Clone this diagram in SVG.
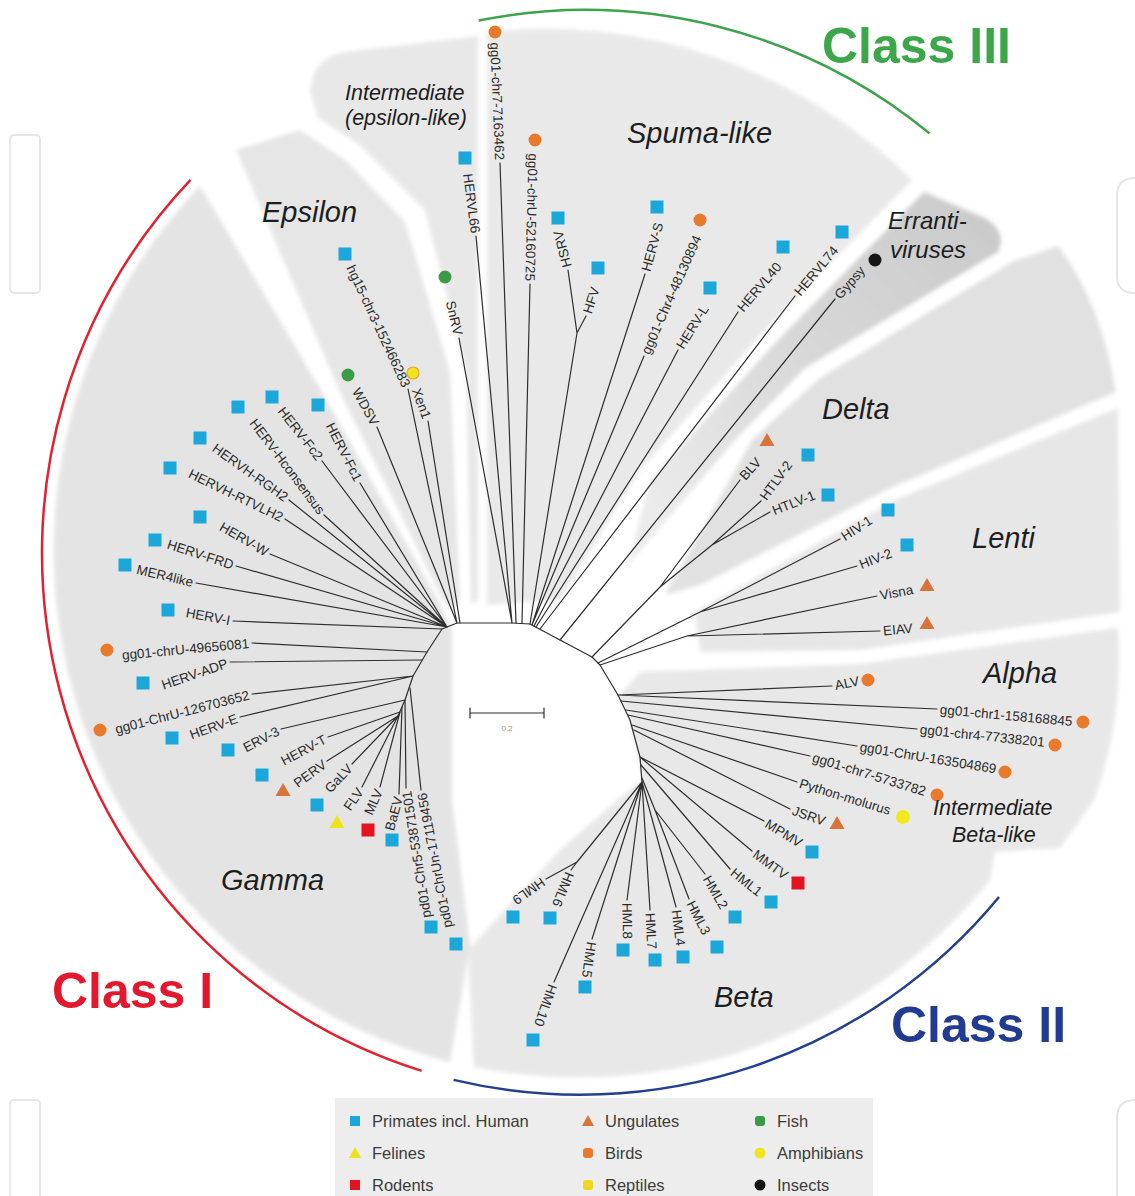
<svg xmlns="http://www.w3.org/2000/svg" width="1135" height="1196" viewBox="0 0 1135 1196">
<defs>
<style>
.br{fill:none;stroke:#2e2e2e;stroke-width:1.2;stroke-linecap:round;stroke-linejoin:round}
.lf{font-family:"Liberation Sans",Arial,sans-serif;font-size:13.5px;fill:#2b2b2b}
.f{text-anchor:end}
.cl{font-family:"Liberation Sans",Arial,sans-serif;font-style:italic;fill:#1e1e1e}
.big{font-size:29px}
.mid{font-size:21.5px}
.cls{font-family:"Liberation Sans",Arial,sans-serif;font-weight:bold;font-size:50px}
.arc{fill:none;stroke-width:2.5}
.lg{font-family:"Liberation Sans",Arial,sans-serif;font-size:16.5px;fill:#3c3c3c}
.wm{fill:none;stroke:#e6e6e6;stroke-width:2}
</style>
<filter id="soft" x="-5%" y="-5%" width="110%" height="110%"><feGaussianBlur stdDeviation="2"/></filter>
<linearGradient id="errg" gradientUnits="userSpaceOnUse" x1="990" y1="225" x2="660" y2="520">
<stop offset="0" stop-color="#cbcbcb"/><stop offset="0.45" stop-color="#d6d6d6"/><stop offset="1" stop-color="#ebebeb"/>
</linearGradient>
<g id="pr"><rect x="-6.5" y="-6.5" width="13" height="13" fill="#1ba7da"/></g>
<g id="ro"><rect x="-6.5" y="-6.5" width="13" height="13" fill="#e3141f"/></g>
<g id="bi"><circle r="6.5" fill="#e87a2c"/></g>
<g id="fi"><circle r="6.5" fill="#3a9a46"/></g>
<g id="am"><circle r="6" fill="#f2e31c" stroke="#e8a530" stroke-width="1.2"/></g>
<g id="re"><circle r="7" fill="#f3e81e"/></g>
<g id="un"><path d="M0,-7 L7.5,6 L-7.5,6 Z" fill="#d9733a"/></g>
<g id="fe"><path d="M0,-7 L7.5,6 L-7.5,6 Z" fill="#efe21c"/></g>
<g id="in"><circle r="6.5" fill="#151515"/></g>
</defs>

<rect width="1135" height="1196" fill="#ffffff"/>

<g id="watermark">
<rect class="wm" x="10" y="135" width="30" height="158" rx="4"/>
<rect class="wm" x="10" y="1100" width="30" height="110" rx="4"/>
<path class="wm" d="M1135,178 Q1117,178 1117,196 L1117,276 Q1117,293 1135,293"/>
<path class="wm" d="M1135,1100 Q1117,1100 1117,1118 L1117,1196"/>
</g>

<g id="background" filter="url(#soft)">
<path fill="#e4e4e4" d="M450,1062 A528,528 0 0 1 200,186 L322,392 L440,604 L452,630 L452,800 L470,945 Z"/>
<path fill="#e6e6e6" d="M236,150 L300,130 L345,160 L405,222 L450,372 L460,600 L452,612 L442,598 L340,392 Z"/>
<path fill="#e8e8e8" d="M318,118 L310,92 Q312,58 345,52 L478,36 L478,600 L471,604 L466,372 L425,210 L360,145 Z"/>
<path fill="#e9e9e9" d="M487,605 L487,32 A520,520 0 0 1 912,180 L765,330 L640,470 L560,600 Z"/>
<path fill="url(#errg)" d="M924,192 L985,218 Q1008,232 998,252 L805,368 L735,440 L628,565 L650,480 L778,340 Z"/>
<path fill="#e1e1e1" d="M1012,262 L1058,246 Q1100,300 1116,392 L890,488 L700,585 L665,595 L752,440 L820,378 Z"/>
<path fill="#e7e7e7" d="M1118,408 L1120,612 L860,650 L700,652 L695,612 L895,500 Z"/>
<path fill="#e8e8e8" d="M1118,628 Q1124,720 1094,800 L1060,848 L995,852 L990,880 A528,528 0 0 1 474,1067 L468,950 L560,850 L643,778 L628,712 L618,698 L640,672 L860,664 Z"/>
</g>

<g id="class-arcs">
<path class="arc" stroke="#e4202e" d="M190.5,179.9 A543,543 0 0 0 421.7,1070.9"/>
<path class="arc" stroke="#233f8f" d="M453.6,1079.9 A543,543 0 0 0 999,897"/>
<path class="arc" stroke="#3fa34d" d="M478.6,20.5 A543,543 0 0 1 929.6,133.4"/>
</g>

<g id="connectors" class="br">
<path d="M398,716 L405,700 L413,676 L427,652 L442,629 L447,627 L457,623 L512,623 L530,624 L560,640 L592,657 L600,665 L618,695 L630,720 L640,757 L642,782"/>
<path d="M360,483 L447,627 M322,461 L447,627 M324,515 L447,627 M289,500 L447,627 M285,519 L447,627 M270,554 L447,627 M236,566 L447,627 M196,583 L447,627 M233,621 L442,629 M252,643 L427,652 M230,662 L422,660 M252,694 L413,676 M240,717 L413,676 M281,729 L405,700 M328,737 L400,712 M327,761 L398,716 M352,764 L398,716 M362,787 L398,716 M380,787 L400,712 M399,794 L402,707 M406,788 L405,700 M421,790 L410,688"/>
<path d="M408,389 L457,623 M377,427 L457,623 M428,421 L460,623 M459,338 L512,623 M476,236 L512,623 M500,163 L516,623 M530,284 L522,623"/>
<path d="M568,270 L577,333 M586,316 L577,333 L530,624 M645,274 L532,625 M644,356 L532,625 M678,350 L534,626 M738,312 L536,627 M795,296 L540,629 M835,299 L560,640"/>
<path d="M740,480 L660,587 M761,501 L712,545 M770,512 L712,545 L660,587 L592,657"/>
<path d="M840,539 L700,612 M857,566 L700,612 L598,663 M877,596 L687,636 M880,631 L687,636 L600,665"/>
<path d="M832,686 L618,695 M937,709 L618,695 M917,729 L621,701 M857,746 L626,710 M810,756 L628,715 M797,782 L632,725 M790,809 L634,730"/>
<path d="M764,821 L640,757 M752,851 L640,757 M730,869 L641,765 M705,874 L655,810 M689,899 L655,810 L642,778 M676,907 L642,782 M650,910 L642,782 M627,900 L642,782 M592,939 L642,782 M554,982 L642,782 M571,870 L577,862 M546,879 L577,862 L642,782"/>
</g>

<g id="scale-bar">
<path class="br" d="M470,713 L544,713 M470,708 L470,718 M544,708 L544,718"/>
<text x="507" y="731" text-anchor="middle" font-family="Liberation Sans, Arial, sans-serif" font-size="8" fill="#9a9a9a">0.2</text>
</g>

<g id="gamma-leaves">
<g id="n-HERV-Fc1"><use href="#pr" x="318" y="405"/><text class="lf f" transform="translate(360 483) rotate(63)" x="-3" dy=".35em">HERV-Fc1</text></g>
<g id="n-HERV-Fc2"><use href="#pr" x="272" y="397"/><text class="lf f" transform="translate(322 461) rotate(52)" x="-3" dy=".35em">HERV-Fc2</text></g>
<g id="n-HERV-Hconsensus"><use href="#pr" x="238" y="407"/><text class="lf f" transform="translate(324 515) rotate(53)" x="-3" dy=".35em">HERV-Hconsensus</text></g>
<g id="n-HERVH-RGH2"><use href="#pr" x="200" y="438"/><text class="lf f" transform="translate(289 500) rotate(35.4)" x="-3" dy=".35em">HERVH-RGH2</text></g>
<g id="n-HERVH-RTVLH2"><use href="#pr" x="170" y="468"/><text class="lf f" transform="translate(285 519) rotate(25.8)" x="-3" dy=".35em">HERVH-RTVLH2</text></g>
<g id="n-HERV-W"><use href="#pr" x="200" y="517"/><text class="lf f" transform="translate(270 554) rotate(30)" x="-3" dy=".35em">HERV-W</text></g>
<g id="n-HERV-FRD"><use href="#pr" x="155" y="540"/><text class="lf f" transform="translate(236 566) rotate(18)" x="-3" dy=".35em">HERV-FRD</text></g>
<g id="n-MER4like"><use href="#pr" x="125" y="565"/><text class="lf f" transform="translate(196 583) rotate(13.2)" x="-3" dy=".35em">MER4like</text></g>
<g id="n-HERV-I"><use href="#pr" x="168" y="610"/><text class="lf f" transform="translate(233 621) rotate(10.5)" x="-3" dy=".35em">HERV-I</text></g>
<g id="n-gg01-chrU-49656081"><use href="#bi" x="107" y="650"/><text class="lf f" transform="translate(252 643) rotate(-5.3)" x="-3" dy=".35em">gg01-chrU-49656081</text></g>
<g id="n-HERV-ADP"><use href="#pr" x="143" y="683"/><text class="lf f" transform="translate(230 662) rotate(-18.9)" x="-3" dy=".35em">HERV-ADP</text></g>
<g id="n-gg01-ChrU-126703652"><use href="#bi" x="100" y="730"/><text class="lf f" transform="translate(252 694) rotate(-14.5)" x="-3" dy=".35em">gg01-ChrU-126703652</text></g>
<g id="n-HERV-E"><use href="#pr" x="172" y="738"/><text class="lf f" transform="translate(240 717) rotate(-20)" x="-3" dy=".35em">HERV-E</text></g>
<g id="n-ERV-3"><use href="#pr" x="228" y="750"/><text class="lf f" transform="translate(281 729) rotate(-27.5)" x="-3" dy=".35em">ERV-3</text></g>
<g id="n-HERV-T"><use href="#pr" x="262" y="775"/><text class="lf f" transform="translate(328 737) rotate(-28)" x="-3" dy=".35em">HERV-T</text></g>
<g id="n-PERV"><use href="#un" x="283" y="790"/><text class="lf f" transform="translate(327 761) rotate(-36.4)" x="-3" dy=".35em">PERV</text></g>
<g id="n-GaLV"><use href="#pr" x="317" y="805"/><text class="lf f" transform="translate(352 764) rotate(-46.7)" x="-3" dy=".35em">GaLV</text></g>
<g id="n-FLV"><use href="#fe" x="337" y="822"/><text class="lf f" transform="translate(362 787) rotate(-55)" x="-3" dy=".35em">FLV</text></g>
<g id="n-MLV"><use href="#ro" x="368" y="830"/><text class="lf f" transform="translate(380 787) rotate(-66)" x="-3" dy=".35em">MLV</text></g>
<g id="n-BaEV"><use href="#pr" x="392" y="840"/><text class="lf f" transform="translate(399 794) rotate(-75)" x="-3" dy=".35em">BaEV</text></g>
<g id="n-pd01-Chr5"><use href="#pr" x="431" y="927"/><text class="lf f" transform="translate(406 788) rotate(-99)" x="-3" dy=".35em">pd01-Chr5-53871501</text></g>
<g id="n-pd01-ChrUn"><use href="#pr" x="456" y="944"/><text class="lf f" transform="translate(421 790) rotate(-101)" x="-3" dy=".35em">pd01-ChrUn-17119456</text></g>
</g>

<g id="epsilon-leaves">
<g id="n-hg15"><use href="#pr" x="345" y="254"/><text class="lf f" transform="translate(408 389) rotate(65)" x="-3" dy=".35em">hg15-chr3-152466283</text></g>
<g id="n-WDSV"><use href="#fi" x="348" y="375"/><text class="lf f" transform="translate(377 427) rotate(61)" x="-3" dy=".35em">WDSV</text></g>
<g id="n-Xen1"><use href="#am" x="413" y="373"/><text class="lf f" transform="translate(428 421) rotate(70)" x="-3" dy=".35em">Xen1</text></g>
<g id="n-SnRV"><use href="#fi" x="445" y="277"/><text class="lf f" transform="translate(459 338) rotate(77)" x="-3" dy=".35em">SnRV</text></g>
<g id="n-HERVL66"><use href="#pr" x="465" y="158"/><text class="lf f" transform="translate(476 236) rotate(82.5)" x="-3" dy=".35em">HERVL66</text></g>
<g id="n-gg01-chr7-7163462"><use href="#bi" x="495" y="32"/><text class="lf f" transform="translate(500 163) rotate(87.6)" x="-3" dy=".35em">gg01-chr7-7163462</text></g>
<g id="n-gg01-chrU-52160725"><use href="#bi" x="535" y="140"/><text class="lf f" transform="translate(530 284) rotate(91.4)" x="-3" dy=".35em">gg01-chrU-52160725</text></g>
</g>

<g id="spuma-leaves">
<g id="n-HSRV"><use href="#pr" x="558" y="218"/><text class="lf" transform="translate(568 270) rotate(-105)" x="3" dy=".35em">HSRV</text></g>
<g id="n-HFV"><use href="#pr" x="598" y="268"/><text class="lf" transform="translate(586 316) rotate(-72)" x="3" dy=".35em">HFV</text></g>
<g id="n-HERV-S"><use href="#pr" x="657" y="207"/><text class="lf" transform="translate(645 274) rotate(-75)" x="3" dy=".35em">HERV-S</text></g>
<g id="n-gg01-Chr4-48130894"><use href="#bi" x="700" y="220"/><text class="lf" transform="translate(644 356) rotate(-66)" x="3" dy=".35em">gg01-Chr4-48130894</text></g>
<g id="n-HERV-L"><use href="#pr" x="710" y="288"/><text class="lf" transform="translate(678 350) rotate(-58)" x="3" dy=".35em">HERV-L</text></g>
<g id="n-HERVL40"><use href="#pr" x="783" y="247"/><text class="lf" transform="translate(738 312) rotate(-49.6)" x="3" dy=".35em">HERVL40</text></g>
<g id="n-HERVL74"><use href="#pr" x="842" y="232"/><text class="lf" transform="translate(795 296) rotate(-50)" x="3" dy=".35em">HERVL74</text></g>
<g id="n-Gypsy"><use href="#in" x="875" y="260"/><text class="lf" transform="translate(835 299) rotate(-48.6)" x="3" dy=".35em">Gypsy</text></g>
</g>

<g id="delta-lenti-leaves">
<g id="n-BLV"><use href="#un" x="767" y="440"/><text class="lf" transform="translate(740 480) rotate(-48)" x="3" dy=".35em">BLV</text></g>
<g id="n-HTLV-2"><use href="#pr" x="808" y="455"/><text class="lf" transform="translate(761 501) rotate(-54)" x="3" dy=".35em">HTLV-2</text></g>
<g id="n-HTLV-1"><use href="#pr" x="828" y="495"/><text class="lf" transform="translate(770 512) rotate(-21.5)" x="3" dy=".35em">HTLV-1</text></g>
<g id="n-HIV-1"><use href="#pr" x="888" y="510"/><text class="lf" transform="translate(840 539) rotate(-33)" x="3" dy=".35em">HIV-1</text></g>
<g id="n-HIV-2"><use href="#pr" x="907" y="545"/><text class="lf" transform="translate(857 566) rotate(-21.5)" x="3" dy=".35em">HIV-2</text></g>
<g id="n-Visna"><use href="#un" x="927" y="585"/><text class="lf" transform="translate(877 596) rotate(-10.7)" x="3" dy=".35em">Visna</text></g>
<g id="n-EIAV"><use href="#un" x="927" y="623"/><text class="lf" transform="translate(880 631) rotate(-5.4)" x="3" dy=".35em">EIAV</text></g>
</g>

<g id="alpha-beta-leaves">
<g id="n-ALV"><use href="#bi" x="868" y="680"/><text class="lf" transform="translate(832 686) rotate(-11)" x="3" dy=".35em">ALV</text></g>
<g id="n-gg01-chr1-158168845"><use href="#bi" x="1083" y="722"/><text class="lf" transform="translate(937 709) rotate(5.2)" x="3" dy=".35em">gg01-chr1-158168845</text></g>
<g id="n-gg01-chr4-77338201"><use href="#bi" x="1055" y="745"/><text class="lf" transform="translate(917 729) rotate(5.8)" x="3" dy=".35em">gg01-chr4-77338201</text></g>
<g id="n-gg01-ChrU-163504869"><use href="#bi" x="1005" y="772"/><text class="lf" transform="translate(857 746) rotate(9.3)" x="3" dy=".35em">gg01-ChrU-163504869</text></g>
<g id="n-gg01-chr7-5733782"><use href="#bi" x="937" y="795"/><text class="lf" transform="translate(810 756) rotate(17.1)" x="3" dy=".35em">gg01-chr7-5733782</text></g>
<g id="n-Python-molurus"><use href="#re" x="903" y="817"/><text class="lf" transform="translate(797 782) rotate(17)" x="3" dy=".35em">Python-molurus</text></g>
<g id="n-JSRV"><use href="#un" x="837" y="823"/><text class="lf" transform="translate(790 809) rotate(19.4)" x="3" dy=".35em">JSRV</text></g>
<g id="n-MPMV"><use href="#pr" x="812" y="852"/><text class="lf" transform="translate(764 821) rotate(31.4)" x="3" dy=".35em">MPMV</text></g>
<g id="n-MMTV"><use href="#ro" x="798" y="883"/><text class="lf" transform="translate(752 851) rotate(36)" x="3" dy=".35em">MMTV</text></g>
<g id="n-HML1"><use href="#pr" x="771" y="902"/><text class="lf" transform="translate(730 869) rotate(38.4)" x="3" dy=".35em">HML1</text></g>
<g id="n-HML2"><use href="#pr" x="735" y="917"/><text class="lf" transform="translate(705 874) rotate(59.9)" x="3" dy=".35em">HML2</text></g>
<g id="n-HML3"><use href="#pr" x="717" y="947"/><text class="lf" transform="translate(689 899) rotate(62.8)" x="3" dy=".35em">HML3</text></g>
<g id="n-HML4"><use href="#pr" x="683" y="957"/><text class="lf" transform="translate(676 907) rotate(83)" x="3" dy=".35em">HML4</text></g>
<g id="n-HML7"><use href="#pr" x="655" y="960"/><text class="lf" transform="translate(650 910) rotate(87)" x="3" dy=".35em">HML7</text></g>
<g id="n-HML8"><use href="#pr" x="623" y="950"/><text class="lf" transform="translate(627 900) rotate(89)" x="3" dy=".35em">HML8</text></g>
<g id="n-HML5"><use href="#pr" x="585" y="987"/><text class="lf" transform="translate(592 939) rotate(98)" x="3" dy=".35em">HML5</text></g>
<g id="n-HML10"><use href="#pr" x="533" y="1040"/><text class="lf" transform="translate(554 982) rotate(109.6)" x="3" dy=".35em">HML10</text></g>
<g id="n-HML6"><use href="#pr" x="550" y="918"/><text class="lf" transform="translate(571 870) rotate(112)" x="3" dy=".35em">HML6</text></g>
<g id="n-HML9"><use href="#pr" x="513" y="917"/><text class="lf" transform="translate(546 879) rotate(144.5)" x="3" dy=".35em">HML9</text></g>
</g>

<g id="clade-labels">
<text class="cl mid" x="345" y="100">Intermediate</text>
<text class="cl mid" x="345" y="125">(epsilon-like)</text>
<text class="cl big" x="262" y="222">Epsilon</text>
<text class="cl big" x="627" y="143">Spuma-like</text>
<text class="cl" font-size="24" x="888" y="229">Erranti-</text>
<text class="cl" font-size="24" x="890" y="258">viruses</text>
<text class="cl big" x="822" y="419">Delta</text>
<text class="cl big" x="972" y="548">Lenti</text>
<text class="cl big" x="983" y="683">Alpha</text>
<text class="cl mid" x="933" y="815">Intermediate</text>
<text class="cl mid" x="952" y="842">Beta-like</text>
<text class="cl big" x="221" y="890">Gamma</text>
<text class="cl big" x="714" y="1007">Beta</text>
</g>

<g id="class-labels">
<text class="cls" x="822" y="63" fill="#3ca748">Class III</text>
<text class="cls" x="52" y="1008" fill="#e3182c">Class I</text>
<text class="cls" x="891" y="1042" fill="#213b92">Class II</text>
</g>

<g id="legend">
<rect x="335" y="1098" width="538" height="98" fill="#ededed"/>
<rect x="350" y="1116" width="10" height="10" fill="#1ba7da"/>
<text class="lg" x="372" y="1127">Primates incl. Human</text>
<path d="M355,1147 L361,1158 L349,1158 Z" fill="#efe21c"/>
<text class="lg" x="372" y="1159">Felines</text>
<rect x="350" y="1180" width="10" height="10" fill="#e3141f"/>
<text class="lg" x="372" y="1191">Rodents</text>
<path d="M588,1115 L594,1126 L582,1126 Z" fill="#d9733a"/>
<text class="lg" x="605" y="1127">Ungulates</text>
<rect x="583" y="1148" width="10" height="10" rx="3" fill="#e87a2c"/>
<text class="lg" x="605" y="1159">Birds</text>
<rect x="583" y="1180" width="10" height="10" rx="3" fill="#f1d81c"/>
<text class="lg" x="605" y="1191">Reptiles</text>
<rect x="755" y="1116" width="10" height="10" rx="3" fill="#3a9a46"/>
<text class="lg" x="777" y="1127">Fish</text>
<circle cx="760" cy="1153" r="5.5" fill="#f2e31c"/>
<text class="lg" x="777" y="1159">Amphibians</text>
<circle cx="760" cy="1185" r="5.5" fill="#151515"/>
<text class="lg" x="777" y="1191">Insects</text>
</g>
</svg>
